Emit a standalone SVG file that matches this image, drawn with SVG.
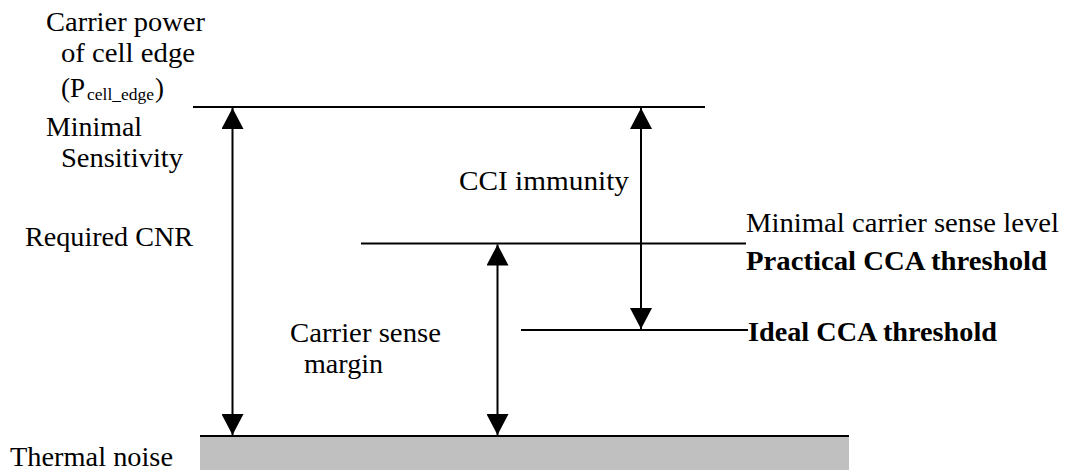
<svg xmlns="http://www.w3.org/2000/svg" width="1072" height="470" viewBox="0 0 1072 470">
<style>
text{font-family:'Liberation Serif','Times New Roman','DejaVu Serif',serif;font-size:27px;fill:#000}
.b{font-weight:bold}
.s{font-size:17px}
.ln{stroke:#000;stroke-width:2;fill:none}
.ar{stroke:#000;stroke-width:2;fill:none}
</style>
<defs>
<marker id="ah" markerUnits="userSpaceOnUse" markerWidth="22" markerHeight="22" viewBox="0 0 20 21" refX="20" refY="10.5" orient="auto-start-reverse">
<path d="M0,0 L20,10.5 L0,21 Z" fill="#000"/>
</marker>
</defs>
<rect width="1072" height="470" fill="#fff"/>
<g id="level-cell-edge">
<line class="ln" x1="193" y1="107" x2="705" y2="107"/>
<text x="46" y="31" textLength="159" lengthAdjust="spacingAndGlyphs">Carrier power</text>
<text x="61" y="62" textLength="134" lengthAdjust="spacingAndGlyphs">of cell edge</text>
<text><tspan x="61" y="97">(P</tspan><tspan class="s" x="87" y="100" textLength="67" lengthAdjust="spacingAndGlyphs">cell_edge</tspan><tspan x="155" y="97">)</tspan></text>
<text x="46" y="136" textLength="96" lengthAdjust="spacingAndGlyphs">Minimal</text>
<text x="61" y="167" textLength="122" lengthAdjust="spacingAndGlyphs">Sensitivity</text>
</g>
<g id="level-practical">
<line class="ln" x1="361" y1="243.5" x2="746" y2="243.5"/>
<text x="746" y="232" textLength="313" lengthAdjust="spacingAndGlyphs">Minimal carrier sense level</text>
<text class="b" x="746" y="270" textLength="301" lengthAdjust="spacingAndGlyphs">Practical CCA threshold</text>
</g>
<g id="level-ideal">
<line class="ln" x1="521" y1="330" x2="748" y2="330"/>
<text class="b" x="748" y="341" textLength="249" lengthAdjust="spacingAndGlyphs">Ideal CCA threshold</text>
</g>
<g id="thermal-noise">
<rect x="200" y="436" width="649" height="34" fill="#c0c0c0"/>
<line class="ln" x1="200" y1="436" x2="849" y2="436"/>
<text x="10" y="466" textLength="163" lengthAdjust="spacingAndGlyphs">Thermal noise</text>
</g>
<g id="label-cnr">
<text x="25" y="246" textLength="168" lengthAdjust="spacingAndGlyphs">Required CNR</text>
</g>
<g id="label-cci">
<text x="459" y="190" textLength="170" lengthAdjust="spacingAndGlyphs">CCI immunity</text>
</g>
<g id="label-margin">
<text x="290" y="342" textLength="151" lengthAdjust="spacingAndGlyphs">Carrier sense</text>
<text x="304" y="373" textLength="79" lengthAdjust="spacingAndGlyphs">margin</text>
</g>
<g id="connectors">
<line class="ar" x1="232.5" y1="108" x2="232.5" y2="435" marker-start="url(#ah)" marker-end="url(#ah)"/>
<line class="ar" x1="641" y1="108" x2="641" y2="329" marker-start="url(#ah)" marker-end="url(#ah)"/>
<line class="ar" x1="497.5" y1="244.5" x2="497.5" y2="435" marker-start="url(#ah)" marker-end="url(#ah)"/>
</g>
</svg>
